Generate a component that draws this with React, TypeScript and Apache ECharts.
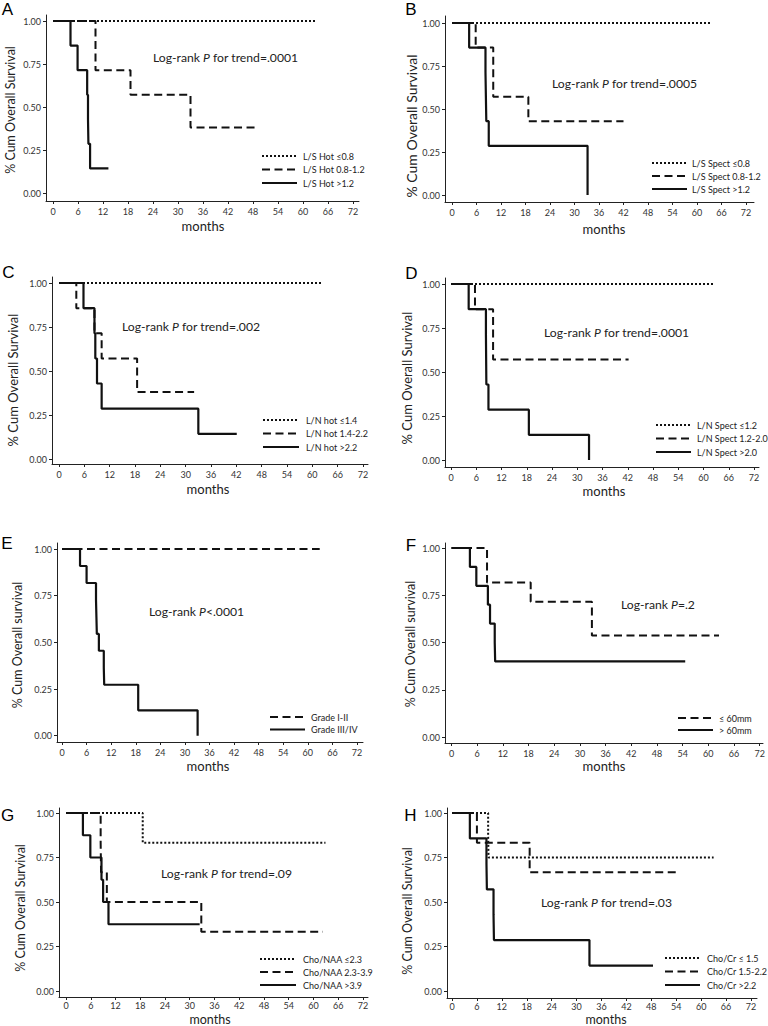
import React, { useEffect, useRef } from "react";
import * as echarts from "echarts";

type Pt = [number, number];

// ---- shared tick values ----
const monthTicks = [0, 6, 12, 18, 24, 30, 36, 42, 48, 54, 60, 66, 72];
const survivalTicks = [0, 0.25, 0.5, 0.75, 1];
const xTitle = "months";
const yTitleUpper = "% Cum Overall Survival";
const yTitleLower = "% Cum Overall survival";
const letters = ["A", "B", "C", "D", "E", "F", "G", "H"];

// ---- Panel A ----
const aNames = ["L/S Hot \u22640.8", "L/S Hot 0.8-1.2", "L/S Hot >1.2"];
const aLow: Pt[] = [[0, 1], [62.9, 1]];
const aMid: Pt[] = [[0, 1], [10.2, 0.714], [18.6, 0.571], [33.0, 0.381], [48.5, 0.381]];
const aHigh: Pt[] = [[0, 1], [4.2, 0.857], [5.9, 0.714], [8.2, 0.571], [8.4, 0.429], [8.5, 0.286], [8.9, 0.143], [13.3, 0.143]];
const aTest = "Log-rank P for trend=.0001";

// ---- Panel B ----
const bNames = ["L/S Spect \u22640.8", "L/S Spect 0.8-1.2", "L/S Spect >1.2"];
const bLow: Pt[] = [[0, 1], [63.5, 1]];
const bMid: Pt[] = [[0, 1], [5.8, 0.857], [10.1, 0.571], [18.7, 0.429], [42.0, 0.429]];
const bHigh: Pt[] = [[0, 1], [4.2, 0.857], [8.2, 0.714], [8.3, 0.571], [8.4, 0.429], [9.0, 0.286], [33.2, 0]];
const bTest = "Log-rank P for trend=.0005";

// ---- Panel C ----
const cNames = ["L/N hot \u22641.4", "L/N hot 1.4-2.2", "L/N hot >2.2"];
const cLow: Pt[] = [[0, 1], [62.5, 1]];
const cMid: Pt[] = [[0, 1], [4.1, 0.857], [8.4, 0.714], [10.1, 0.571], [18.5, 0.381], [32.0, 0.381]];
const cHigh: Pt[] = [[0, 1], [5.8, 0.857], [8.4, 0.714], [8.6, 0.571], [9.0, 0.429], [10.1, 0.286], [33.0, 0.143], [42.1, 0.143]];
const cTest = "Log-rank P for trend=.002";

// ---- Panel D ----
const dNames = ["L/N Spect \u22641.2", "L/N Spect 1.2-2.0", "L/N Spect >2.0"];
const dLow: Pt[] = [[0, 1], [62.4, 1]];
const dMid: Pt[] = [[0, 1], [5.7, 0.857], [10.0, 0.571], [42.2, 0.571]];
const dHigh: Pt[] = [[0, 1], [4.2, 0.857], [8.3, 0.714], [8.4, 0.429], [8.9, 0.286], [18.5, 0.143], [32.8, 0]];
const dTest = "Log-rank P for trend=.0001";

// ---- Panel E ----
const eNames = ["Grade I-II", "Grade III/IV"];
const eLow: Pt[] = [[0, 1], [62.9, 1]];
const eHigh: Pt[] = [[0, 1], [4.4, 0.909], [6.0, 0.818], [8.3, 0.727], [8.4, 0.636], [8.5, 0.545], [9.0, 0.455], [10.2, 0.364], [10.3, 0.273], [18.6, 0.136], [33.1, 0]];
const eTest = "Log-rank P<.0001";

// ---- Panel F ----
const fNames = ["\u2264 60mm", "> 60mm"];
const fLow: Pt[] = [[0, 1], [8.3, 0.818], [18.5, 0.716], [32.8, 0.537], [62.5, 0.537]];
const fHigh: Pt[] = [[0, 1], [4.3, 0.9], [5.8, 0.8], [8.5, 0.7], [9.0, 0.6], [10.1, 0.5], [10.2, 0.4], [54.6, 0.4]];
const fTest = "Log-rank P=.2";

// ---- Panel G ----
const gNames = ["Cho/NAA \u22642.3", "Cho/NAA 2.3-3.9", "Cho/NAA >3.9"];
const gLow: Pt[] = [[0, 1], [18.6, 0.833], [62.9, 0.833]];
const gMid: Pt[] = [[0, 1], [8.4, 0.833], [8.5, 0.667], [9.9, 0.5], [32.8, 0.333], [62.3, 0.333]];
const gHigh: Pt[] = [[0, 1], [4.1, 0.875], [5.9, 0.75], [8.6, 0.625], [9.0, 0.5], [10.3, 0.375], [32.4, 0.375]];
const gTest = "Log-rank P for trend=.09";

// ---- Panel H ----
const hNames = ["Cho/Cr \u2264 1.5", "Cho/Cr 1.5-2.2", "Cho/Cr >2.2"];
const hLow: Pt[] = [[0, 1], [8.7, 0.875], [8.8, 0.75], [63.0, 0.75]];
const hMid: Pt[] = [[0, 1], [6.0, 0.833], [18.7, 0.667], [54.1, 0.667]];
const hHigh: Pt[] = [[0, 1], [4.3, 0.857], [8.3, 0.714], [8.4, 0.571], [10.0, 0.429], [10.1, 0.286], [33.1, 0.143], [48.4, 0.143]];
const hTest = "Log-rank P for trend=.03";

// ---- styling / layout (not data) ----
const FONT = 'Lato, "Open Sans", sans-serif';
const INK = "#111";
const LINE_KINDS: Record<string, { type: any; width: number }> = {
  dot: { type: [2, 2], width: 2 },
  dash: { type: [8, 4.5], width: 2 },
  solid: { type: "solid", width: 2.2 },
};

type Panel = {
  names: string[]; curves: Pt[][]; kinds: string[]; test: string; yTitle: string;
  ax: number; ay: number; x0: number; x72: number; y1: number; y0: number; xEnd: number; yTop: number;
  letter: [number, number]; yt: [number, number, number]; mo: [number, number, number]; lm: number;
  tp: [number, number, number]; lg: [number, number, number, number, number];
};

const panels: Panel[] = [
  { names: aNames, curves: [aLow, aMid, aHigh], kinds: ["dot", "dash", "solid"], test: aTest, yTitle: yTitleUpper,
    ax: 46, ay: 201, x0: 53, x72: 353, y1: 21, y0: 193, xEnd: 359, yTop: 15, lm: 6,
    letter: [7.5, 9], yt: [10, 110, 12.5], mo: [203, 226, 13], tp: [153, 57, 12.2], lg: [262, 297, 303, 156, 13.5] },
  { names: bNames, curves: [bLow, bMid, bHigh], kinds: ["dot", "dash", "solid"], test: bTest, yTitle: yTitleUpper,
    ax: 445, ay: 202, x0: 452, x72: 746, y1: 23, y0: 195, xEnd: 754, yTop: 16, lm: 6,
    letter: [411, 9], yt: [411, 126, 14], mo: [604, 229, 13], tp: [552, 83, 12.2], lg: [652, 687, 692, 163, 13] },
  { names: cNames, curves: [cLow, cMid, cHigh], kinds: ["dot", "dash", "solid"], test: cTest, yTitle: yTitleUpper,
    ax: 52, ay: 464, x0: 59, x72: 363, y1: 283, y0: 459, xEnd: 368, yTop: 277, lm: 6,
    letter: [8.5, 272], yt: [13, 380, 13], mo: [208, 489, 13], tp: [122, 326, 12.2], lg: [263, 299, 306, 420, 13.5] },
  { names: dNames, curves: [dLow, dMid, dHigh], kinds: ["dot", "dash", "solid"], test: dTest, yTitle: yTitleUpper,
    ax: 445, ay: 467, x0: 451, x72: 754, y1: 284, y0: 460, xEnd: 759, yTop: 278, lm: 6,
    letter: [411.5, 273], yt: [407, 378, 13], mo: [604, 491, 13], tp: [544, 332, 12.2], lg: [656, 691, 697, 425, 13.5] },
  { names: eNames, curves: [eLow, eHigh], kinds: ["dash", "solid"], test: eTest, yTitle: yTitleLower,
    ax: 57, ay: 742, x0: 62, x72: 357, y1: 549, y0: 735.7, xEnd: 363, yTop: 543, lm: 6,
    letter: [7, 543], yt: [17, 645, 12.5], mo: [208, 766, 13], tp: [149, 611, 12.2], lg: [270, 305, 311, 717, 12.5] },
  { names: fNames, curves: [fLow, fHigh], kinds: ["dash", "solid"], test: fTest, yTitle: yTitleLower,
    ax: 445, ay: 743, x0: 451.5, x72: 759.7, y1: 548, y0: 737, xEnd: 763, yTop: 543, lm: 6,
    letter: [411, 545], yt: [410, 644, 12.5], mo: [604, 766, 13], tp: [621, 604, 12.2], lg: [678, 713, 719, 718, 12] },
  { names: gNames, curves: [gLow, gMid, gHigh], kinds: ["dot", "dash", "solid"], test: gTest, yTitle: yTitleUpper,
    ax: 59, ay: 997, x0: 66, x72: 363, y1: 813, y0: 991, xEnd: 368, yTop: 808, lm: 4,
    letter: [7.5, 815], yt: [20, 908, 12.5], mo: [210, 1019.5, 12.5], tp: [161, 873, 12.2], lg: [260, 296, 303, 959, 13] },
  { names: hNames, curves: [hLow, hMid, hHigh], kinds: ["dot", "dash", "solid"], test: hTest, yTitle: yTitleUpper,
    ax: 447, ay: 998, x0: 452, x72: 751, y1: 813, y0: 991, xEnd: 757, yTop: 808, lm: 4,
    letter: [410.5, 815], yt: [407, 911, 12.5], mo: [606, 1019.5, 12.5], tp: [541, 902, 12.2], lg: [665, 700, 707, 958, 13.5] },
];

function richTest(s: string) {
  const idx = s.indexOf(" P");
  const before = s.slice(0, idx + 1);
  const after = s.slice(idx + 2);
  return `{t|${before}}{i|P}{t|${after}}`;
}

function buildOption() {
  const grid: any[] = [];
  const xAxis: any[] = [];
  const yAxis: any[] = [];
  const series: any[] = [];
  const graphic: any[] = [];

  panels.forEach((p, i) => {
    const kx = (p.x72 - p.x0) / 72;
    const ky = p.y0 - p.y1;
    grid.push({ left: p.ax, top: p.yTop, width: p.xEnd - p.ax, height: p.ay - p.yTop });
    xAxis.push({
      type: "value", gridIndex: i,
      min: (p.ax - p.x0) / kx, max: 72 + (p.xEnd - p.x72) / kx,
      splitLine: { show: false },
      axisLine: { onZero: false, lineStyle: { color: "#222", width: 1 } },
      axisTick: { show: true, length: 3, customValues: monthTicks, lineStyle: { color: "#222" } },
      axisLabel: { customValues: monthTicks, fontSize: 9, color: "#333", margin: p.lm, fontFamily: FONT },
    });
    yAxis.push({
      type: "value", gridIndex: i,
      min: -(p.ay - p.y0) / ky, max: 1 + (p.y1 - p.yTop) / ky,
      splitLine: { show: false },
      axisLine: { onZero: false, lineStyle: { color: "#222", width: 1 } },
      axisTick: { show: true, length: 3, customValues: survivalTicks, lineStyle: { color: "#222" } },
      axisLabel: { customValues: survivalTicks, fontSize: 9, color: "#333", margin: 5, fontFamily: FONT,
        formatter: (v: number) => v.toFixed(2) },
    });
    p.curves.forEach((c, j) => {
      const k = LINE_KINDS[p.kinds[j]];
      series.push({
        type: "line", name: p.names[j], xAxisIndex: i, yAxisIndex: i, data: c,
        step: "end", symbol: "none", silent: true,
        lineStyle: { color: INK, width: k.width, type: k.type },
      });
      const ly = p.lg[3] + j * p.lg[4];
      graphic.push({
        type: "line", silent: true,
        shape: { x1: p.lg[0], y1: ly, x2: p.lg[1], y2: ly },
        style: { stroke: INK, lineWidth: k.width, lineDash: k.type === "solid" ? null : k.type },
      });
      graphic.push({
        type: "text", x: p.lg[2], y: ly, silent: true,
        style: { text: p.names[j], fontSize: 9, fontFamily: FONT, fill: "#222",
          align: "left", verticalAlign: "middle", textAlign: "left", textVerticalAlign: "middle" },
      });
    });
    graphic.push({
      type: "text", x: p.letter[0], y: p.letter[1], silent: true,
      style: { text: letters[i], fontSize: 17, fontFamily: '"Liberation Sans", Arial, sans-serif', fill: "#000",
        align: "center", verticalAlign: "middle", textAlign: "center", textVerticalAlign: "middle" },
    });
    graphic.push({
      type: "text", x: p.yt[0], y: p.yt[1], rotation: Math.PI / 2, silent: true,
      style: { text: p.yTitle, fontSize: p.yt[2], fontFamily: FONT, fill: "#222",
        align: "center", verticalAlign: "middle", textAlign: "center", textVerticalAlign: "middle" },
    });
    graphic.push({
      type: "text", x: p.mo[0], y: p.mo[1], silent: true,
      style: { text: xTitle, fontSize: p.mo[2], fontFamily: FONT, fill: "#222",
        align: "center", verticalAlign: "middle", textAlign: "center", textVerticalAlign: "middle" },
    });
    graphic.push({
      type: "text", x: p.tp[0], y: p.tp[1], silent: true,
      style: {
        text: richTest(p.test), align: "left", verticalAlign: "middle", textAlign: "left", textVerticalAlign: "middle",
        rich: {
          t: { fontSize: p.tp[2], fontFamily: FONT, fill: "#222" },
          i: { fontSize: p.tp[2], fontFamily: FONT, fill: "#222", fontStyle: "italic" },
        },
      },
    });
  });

  return { animation: false, backgroundColor: "#fff", grid, xAxis, yAxis, series, graphic };
}

export default function App() {
  const ref = useRef<HTMLDivElement>(null);
  useEffect(() => {
    if (!ref.current) return;
    const chart = echarts.init(ref.current, null, { renderer: "svg" });
    chart.setOption(buildOption());
    return () => chart.dispose();
  }, []);
  return (
    <div
      ref={ref}
      style={{ position: "fixed", left: 0, top: 0, width: 768, height: 1026, background: "#fff" }}
    />
  );
}
